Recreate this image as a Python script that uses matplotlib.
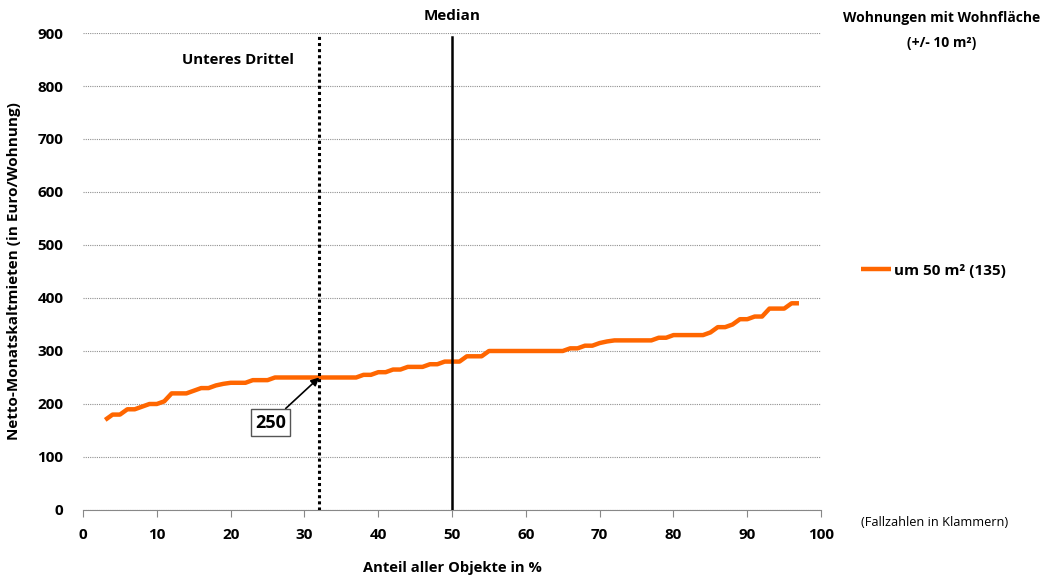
import matplotlib.pyplot as plt

plt.rcParams['font.family'] = ['Open Sans', 'DejaVu Sans']

# share of all objects (%) and net rent (Euro/flat)
anteil = list(range(3, 98))
miete = [170, 180, 180, 190, 190, 195, 200, 200, 205, 220,
         220, 220, 225, 230, 230, 235, 238, 240, 240, 240,
         245, 245, 245, 250, 250, 250, 250, 250, 250, 250,
         250, 250, 250, 250, 250, 255, 255, 260, 260, 265,
         265, 270, 270, 270, 275, 275, 280, 280, 280, 290,
         290, 290, 300, 300, 300, 300, 300, 300, 300, 300,
         300, 300, 300, 305, 305, 310, 310, 315, 318, 320,
         320, 320, 320, 320, 320, 325, 325, 330, 330, 330,
         330, 330, 335, 345, 345, 350, 360, 360, 365, 365,
         380, 380, 380, 390, 390]
serie_label = 'um 50 m² (135)'
drittel_x, drittel_y = 32, 250
median_x = 50

fig = plt.figure(figsize=(10.46, 5.79), dpi=100)
ax = fig.add_axes([0.0794, 0.1192, 0.7056, 0.8238])

ax.plot(anteil, miete, color='#ff6600', lw=3.2, solid_capstyle='butt',
        label=serie_label, zorder=3)

ax.set_xlim(0, 100)
ax.set_ylim(0, 900)
ax.set_xticks(range(0, 101, 10))
ax.set_yticks(range(0, 901, 100))
ax.grid(axis='y', color='#909090', linestyle=(0, (1, 1)), lw=0.8)
ax.set_axisbelow(True)
for s in ['left', 'right', 'top']:
    ax.spines[s].set_visible(False)
ax.spines['bottom'].set_color('#888888')
ax.tick_params(axis='x', direction='out', length=5, color='#888888', pad=8)
ax.tick_params(axis='y', length=0, pad=14)
for lab in ax.get_xticklabels() + ax.get_yticklabels():
    lab.set_fontweight('bold')
    lab.set_fontsize(11)

ax.set_xlabel('Anteil aller Objekte in %', fontsize=10.6, fontweight='bold', labelpad=14)
ax.set_ylabel('Netto-Monatskaltmieten (in Euro/Wohnung)', fontsize=11,
              fontweight='bold', labelpad=12)

ax.plot([drittel_x, drittel_x], [0, 895], color='black', lw=2.2,
        linestyle=(0, (1, 1)), zorder=4)
ax.plot([median_x, median_x], [0, 893], color='black', lw=1.8, zorder=4)

ax.text(median_x, 918, 'Median', ha='center', va='bottom', fontsize=11,
        fontweight='bold', clip_on=False)
ax.text(21, 850, 'Unteres Drittel', ha='center', va='center', fontsize=10.8,
        fontweight='bold')

ax.annotate(str(drittel_y), xy=(drittel_x, drittel_y), xytext=(25.4, 165),
            ha='center', va='center', fontsize=13, fontweight='bold',
            bbox=dict(boxstyle='square,pad=0.25', fc='white', ec='#555555', lw=1),
            arrowprops=dict(arrowstyle='-|>', color='black', lw=1.2,
                            mutation_scale=12, shrinkA=0, shrinkB=0), zorder=5)

fig.text(0.9005, 0.969, 'Wohnungen mit Wohnfläche', ha='center', va='center',
         fontsize=10, fontweight='bold')
fig.text(0.9005, 0.926, '(+/- 10 m²)', ha='center', va='center',
         fontsize=10, fontweight='bold')

leg = ax.legend(loc='center left', bbox_to_anchor=(1.035, 0.502), frameon=False,
                handlelength=2.0, handletextpad=0.2,
                prop={'weight': 'bold', 'size': 11})

fig.text(0.894, 0.097, '(Fallzahlen in Klammern)', ha='center', va='center',
         fontsize=9.2)

fig.savefig('out.png', dpi=100)
